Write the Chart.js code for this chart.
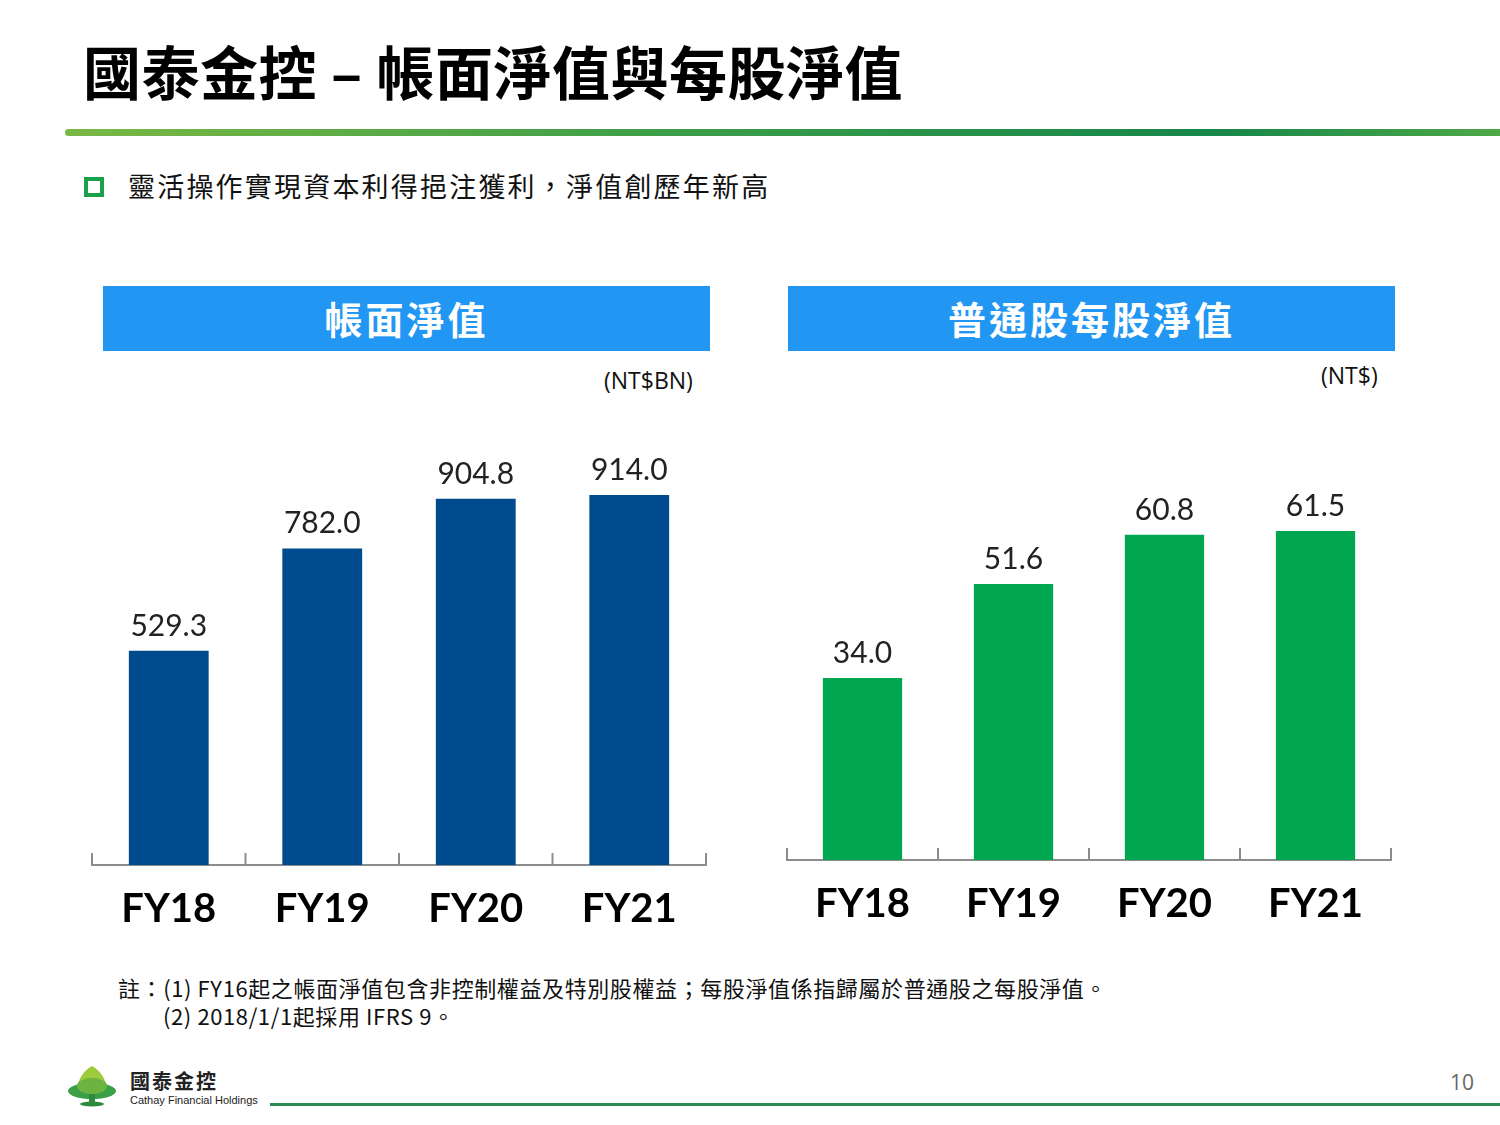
<!DOCTYPE html>
<html>
<head>
<meta charset="utf-8">
<script src="https://cdn.jsdelivr.net/npm/chart.js@4.4.0/dist/chart.umd.min.js"></script>
<style>
  html, body { margin: 0; padding: 0; background: #fff; }
  body { width: 1500px; height: 1125px; position: relative; overflow: hidden;
         font-family: "Noto Sans CJK TC", "Noto Sans", sans-serif; }
  .abs { position: absolute; white-space: nowrap; }
  #title { left: 83px; top: 30px; font-size: 58px; font-weight: 700; color: #000; line-height: 80px; letter-spacing: 0.5px; }
  #rule { left: 65px; top: 129px; width: 1435px; height: 7px; border-radius: 4px 0 0 4px;
          background: linear-gradient(to right, #7ab844 0%, #3f9f48 40%, #16864a 80%, #4ea846 100%); }
  #bullet { left: 84px; top: 177px; width: 12px; height: 12px; border: 4px solid #1aa04a; }
  #lead { left: 128px; top: 166px; font-size: 27px; color: #111; line-height: 40px; letter-spacing: 2.2px; }
  .head { height: 65px; background: #2196f3; color: #fff; font-size: 38px; font-weight: 700;
          text-align: center; line-height: 64px; letter-spacing: 3px; }
  .unit { font-size: 23px; color: #111; font-family: "Open Sans", sans-serif; }
  .note { font-size: 22px; color: #111; line-height: 28px; letter-spacing: 0.6px; }
  #pg { left: 1450px; top: 1068px; font-size: 21px; color: #666; font-family: "Open Sans", sans-serif; }
  #brand { left: 130px; top: 1066px; font-size: 20px; font-weight: 700; color: #222; letter-spacing: 2px; }
  #brandEn { left: 130px; top: 1094px; font-size: 11px; color: #222; font-family: "Liberation Sans Narrow", "Liberation Sans", sans-serif; }
  #foot { left: 270px; top: 1103px; width: 1230px; height: 3px; background: #2a8a50; }
  canvas { display: block; }
</style>
</head>
<body>
<div class="abs" id="title">國泰金控 – 帳面淨值與每股淨值</div>
<div class="abs" id="rule"></div>
<div class="abs" id="bullet"></div>
<div class="abs" id="lead">靈活操作實現資本利得挹注獲利，淨值創歷年新高</div>

<div class="abs head" style="left:103px; top:286px; width:607px;">帳面淨值</div>
<div class="abs head" style="left:788px; top:286px; width:607px;">普通股每股淨值</div>
<div class="abs unit" style="left:604px; top:364px;">(NT$BN)</div>
<div class="abs unit" style="left:1321px; top:359px;">(NT$)</div>

<div class="abs" style="left:80px; top:400px; width:640px; height:553px;"><canvas id="bookChart"></canvas></div>
<div class="abs" style="left:775px; top:400px; width:630px; height:548px;"><canvas id="bvpsChart"></canvas></div>

<div class="abs note" style="left:118px; top:973px;">註：(1) FY16起之帳面淨值包含非控制權益及特別股權益；每股淨值係指歸屬於普通股之每股淨值。</div>
<div class="abs note" style="left:163px; top:1001px;">(2) 2018/1/1起採用 IFRS 9。</div>

<svg class="abs" style="left:66px; top:1064px;" width="52" height="46" viewBox="0 0 52 46">
  <path d="M26 2 C16 8 12 16 12 24 L40 24 C40 16 36 8 26 2 Z" fill="#9ccc3c"/>
  <ellipse cx="26" cy="27" rx="24" ry="8" fill="#3aa047"/>
  <ellipse cx="26" cy="22" rx="15" ry="8" fill="#6cb33f"/>
  <rect x="23" y="30" width="6" height="9" fill="#2e8b3e"/>
  <ellipse cx="26" cy="40" rx="12" ry="2.5" fill="#2e8b3e"/>
</svg>
<div class="abs" id="brand">國泰金控</div>
<div class="abs" id="brandEn">Cathay Financial Holdings</div>
<div class="abs" id="foot"></div>
<div class="abs" id="pg">10</div>

<script>
const years = ['FY18', 'FY19', 'FY20', 'FY21'];
const bookValue = [529.3, 782.0, 904.8, 914.0];   // NT$BN
const bvps = [34.0, 51.6, 60.8, 61.5];            // NT$

// value labels on top of each bar
const barLabels = {
  id: 'barLabels',
  afterDatasetsDraw(chart) {
    const ctx = chart.ctx;
    ctx.save();
    ctx.font = '30px Lato, "Open Sans", sans-serif';
    ctx.fillStyle = '#222';
    ctx.textAlign = 'center';
    ctx.textBaseline = 'alphabetic';
    chart.getDatasetMeta(0).data.forEach((bar, i) => {
      const v = chart.data.datasets[0].data[i];
      ctx.fillText(v.toFixed(1), bar.x, bar.y - 15);
    });
    ctx.restore();
  }
};

// short upward tick marks at the category boundaries
const boundaryTicks = {
  id: 'boundaryTicks',
  afterDraw(chart) {
    const x = chart.scales.x;
    const n = chart.data.labels.length;
    const ctx = chart.ctx;
    ctx.save();
    ctx.strokeStyle = '#8c8c8c';
    ctx.lineWidth = 2;
    for (let i = 0; i <= n; i++) {
      const px = x.left + (x.right - x.left) * i / n;
      ctx.beginPath();
      ctx.moveTo(px, x.top - 12);
      ctx.lineTo(px, x.top + 1);
      ctx.stroke();
    }
    ctx.restore();
  }
};

function makeChart(id, values, color, yMax, barPct) {
  return new Chart(document.getElementById(id).getContext('2d'), {
    type: 'bar',
    data: {
      labels: years,
      datasets: [{
        data: values,
        backgroundColor: color,
        categoryPercentage: 1,
        barPercentage: barPct
      }]
    },
    options: {
      responsive: true,
      maintainAspectRatio: false,
      animation: false,
      layout: { padding: { left: 12, right: 14, top: 40, bottom: 0 } },
      plugins: { legend: { display: false }, tooltip: { enabled: false } },
      scales: {
        y: { display: false, min: 0, max: yMax },
        x: {
          grid: { display: false, drawTicks: false },
          border: { display: true, color: '#8c8c8c', width: 2 },
          ticks: {
            color: '#000',
            padding: 20,
            font: { family: 'Lato, "Open Sans", sans-serif', size: 40, weight: 'bold' }
          }
        }
      }
    },
    plugins: [barLabels, boundaryTicks]
  });
}

makeChart('bookChart', bookValue, '#004b8d', 1050, 0.52);
makeChart('bvpsChart', bvps, '#00a650', 78.5, 0.525);
</script>
</body>
</html>
